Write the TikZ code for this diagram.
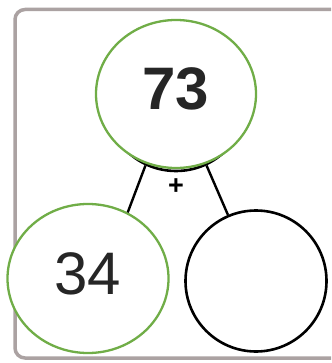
\documentclass[tikz,border=0pt]{standalone}
\usepackage{fontspec}
\setmainfont{Liberation Sans}
\usepackage{tikz}
\usetikzlibrary{shapes.geometric}
\definecolor{leafgreen}{HTML}{70AD47}
\definecolor{framegray}{HTML}{ABA2A2}
\definecolor{inkgray}{HTML}{262626}
\tikzset{ball/.style={ellipse,inner sep=0pt,fill=white,text=inkgray,font=\fontsize{60}{60}\selectfont},
  greenball/.style={ball,draw=leafgreen,line width=2.3pt},
  blackball/.style={ball,draw=black,line width=2.6pt},
  link/.style={line width=2.4pt,black}}

\begin{document}
\begin{tikzpicture}[x=1pt,y=-1pt,line join=round]
\useasboundingbox (0,0) rectangle (331,363);
\clip (0,0) rectangle (331,363);
% --- frame, cut on the right
\draw[framegray,line width=3.5pt,rounded corners=10pt] (15,9.5) rectangle (350,358);
% --- the whole and its two parts
\node[blackball,minimum size=142pt] (wholeback) at (176,100) {};
\node[greenball,minimum width=160pt,minimum height=148pt,text depth=11pt,font=\fontsize{60}{60}\selectfont\bfseries] (whole) at (176,94) {73};
\node[greenball,minimum width=161pt,minimum height=149pt,text depth=10pt] (partA) at (88,278.5) {34};
\node[blackball,minimum size=141pt] (partB) at (256,281) {};
\draw[link] (wholeback.245) -- (partA.59);
\draw[link] (wholeback.295) -- (partB.113);
\node[font=\fontsize{27}{27}\selectfont\bfseries,text=black] (plus) at (176,187) {+};
\end{tikzpicture}
\end{document}
